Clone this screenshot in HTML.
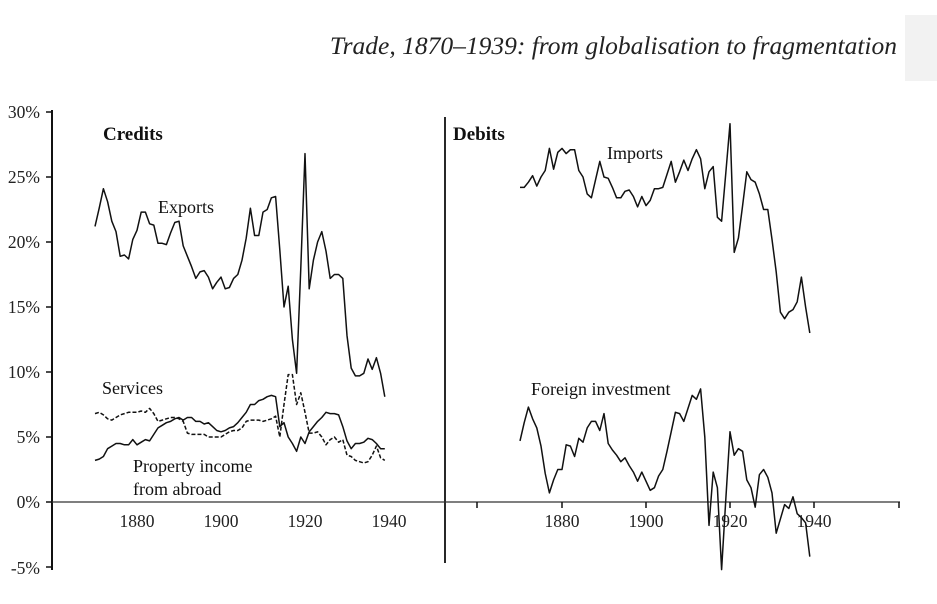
<!DOCTYPE html>
<html><head><meta charset="utf-8"><style>
html,body{margin:0;padding:0;background:#fff;}
svg{display:block;font-family:"Liberation Serif",serif;}
</style></head><body>
<svg id="s" width="937" height="604" viewBox="0 0 937 604" xmlns="http://www.w3.org/2000/svg">
<rect x="905" y="15" width="32" height="66" fill="#f2f2f2"/>
<text x="897" y="54" font-size="25.5" font-style="italic" text-anchor="end" fill="#222">Trade, 1870–1939: from globalisation to fragmentation</text>
<g stroke="#111" stroke-width="2" fill="none">
<line x1="52" y1="110" x2="52" y2="570"/>
<line x1="445" y1="117" x2="445" y2="563" stroke-width="1.8"/>
</g>
<line x1="52" y1="502" x2="900" y2="502" stroke="#333" stroke-width="1.3"/>
<g stroke="#111" stroke-width="1.5" id="ticks"></g>
<g font-size="17.5" fill="#222" text-anchor="end">
<text x="40" y="118">30%</text><text x="40" y="183">25%</text><text x="40" y="248">20%</text>
<text x="40" y="313">15%</text><text x="40" y="378">10%</text><text x="40" y="443">5%</text>
<text x="40" y="508">0%</text><text x="40" y="574">-5%</text>
</g>
<g font-size="17.5" fill="#222" text-anchor="middle">
<text x="137" y="527">1880</text><text x="221" y="527">1900</text><text x="305" y="527">1920</text><text x="389" y="527">1940</text>
<text x="562" y="527">1880</text><text x="646" y="527">1900</text><text x="730" y="527">1920</text><text x="814" y="527">1940</text>
</g>
<g font-size="18" fill="#111">
<text x="103" y="140" font-weight="bold" font-size="19">Credits</text>
<text x="453" y="140" font-weight="bold" font-size="19">Debits</text>
<text x="158" y="213">Exports</text>
<text x="102" y="394">Services</text>
<text x="133" y="472">Property income</text>
<text x="133" y="495">from abroad</text>
<text x="607" y="159">Imports</text>
<text x="531" y="395">Foreign investment</text>
</g>
<g id="lines" fill="none" stroke="#111" stroke-width="1.5" stroke-linejoin="round"></g>
</svg>
<script>
var NS="http://www.w3.org/2000/svg";
function line(x0,vals,dash){
 var p=vals.map(function(v,i){return (x0+i*4.2).toFixed(1)+","+(502-13*v).toFixed(1);}).join(" ");
 var e=document.createElementNS(NS,"polyline");e.setAttribute("points",p);
 if(dash){e.setAttribute("stroke-dasharray","4,2");}
 document.getElementById("lines").appendChild(e);
}
var exp=[21.2,22.6,24.1,23.1,21.6,20.8,18.9,19.0,18.7,20.2,20.9,22.3,22.3,21.4,21.3,19.9,19.9,19.8,20.7,21.5,21.6,19.7,18.9,18.1,17.2,17.7,17.8,17.3,16.4,16.9,17.3,16.4,16.5,17.2,17.5,18.6,20.3,22.6,20.5,20.5,22.3,22.5,23.4,23.5,19.4,15.0,16.6,12.5,9.9,18.0,26.8,16.4,18.6,20.0,20.8,19.3,17.2,17.5,17.5,17.2,12.8,10.3,9.7,9.7,9.9,11.0,10.2,11.1,9.9,8.1];
var prop=[3.2,3.3,3.5,4.1,4.3,4.5,4.5,4.4,4.4,4.8,4.4,4.6,4.8,4.7,5.2,5.7,5.9,6.1,6.2,6.4,6.5,6.3,6.5,6.5,6.2,6.2,6.0,6.1,5.8,5.5,5.4,5.5,5.7,5.8,6.1,6.5,6.9,7.5,7.5,7.8,7.9,8.1,8.2,8.1,5.8,6.1,5.0,4.5,3.9,5.0,4.5,5.4,5.8,6.2,6.5,6.9,6.8,6.8,6.7,5.8,4.7,4.1,4.5,4.5,4.6,4.9,4.8,4.5,4.1,4.1];
var serv=[6.8,6.9,6.7,6.4,6.3,6.5,6.7,6.8,6.9,6.9,6.9,7.0,6.9,7.2,6.8,6.2,6.3,6.4,6.5,6.5,6.4,6.2,5.3,5.2,5.2,5.2,5.2,5.0,5.0,5.0,5.0,5.2,5.4,5.5,5.5,5.7,6.2,6.3,6.3,6.3,6.2,6.3,6.4,6.6,5.0,7.5,9.8,9.8,7.5,8.4,6.9,5.3,5.3,5.4,5.0,4.4,4.8,5.0,4.6,4.8,3.6,3.5,3.2,3.1,3.0,3.1,3.6,4.3,3.4,3.2];
var imp=[24.2,24.2,24.6,25.1,24.3,25.0,25.5,27.2,25.6,26.9,27.2,26.8,27.1,27.1,25.5,25.0,23.7,23.4,24.8,26.2,25.0,24.9,24.2,23.4,23.4,23.9,24.0,23.5,22.7,23.5,22.8,23.2,24.1,24.1,24.2,25.2,26.2,24.6,25.4,26.3,25.5,26.4,27.1,26.4,24.1,25.4,25.8,21.9,21.6,25.3,29.1,19.2,20.3,22.8,25.4,24.8,24.6,23.7,22.5,22.5,20.2,17.7,14.6,14.1,14.6,14.8,15.4,17.3,15.0,13.0];
var fi=[4.7,6.1,7.3,6.4,5.7,4.3,2.2,0.7,1.7,2.5,2.5,4.4,4.3,3.5,4.9,4.6,5.7,6.2,6.2,5.5,6.8,4.5,4.0,3.6,3.1,3.4,2.8,2.3,1.6,2.3,1.6,0.9,1.1,2.0,2.5,3.9,5.4,6.9,6.8,6.2,7.2,8.2,7.9,8.7,5.0,-1.8,2.3,1.1,-5.2,0.2,5.4,3.6,4.1,3.9,1.7,1.1,-0.4,2.1,2.5,1.9,0.7,-2.4,-1.3,-0.2,-0.5,0.4,-0.9,-1.2,-1.6,-4.2];
line(95,exp);line(95,prop);line(95,serv,true);line(520,imp);line(520,fi);
var t=document.getElementById("ticks");
[-5,0,5,10,15,20,25,30].forEach(function(v){var l=document.createElementNS(NS,"line");var y=502-13*v;l.setAttribute("x1",46);l.setAttribute("x2",52);l.setAttribute("y1",y);l.setAttribute("y2",y);t.appendChild(l);});
[477,562,646,730,814,899].forEach(function(x){var l=document.createElementNS(NS,"line");l.setAttribute("x1",x);l.setAttribute("x2",x);l.setAttribute("y1",502);l.setAttribute("y2",508);t.appendChild(l);});
</script>
</body></html>
